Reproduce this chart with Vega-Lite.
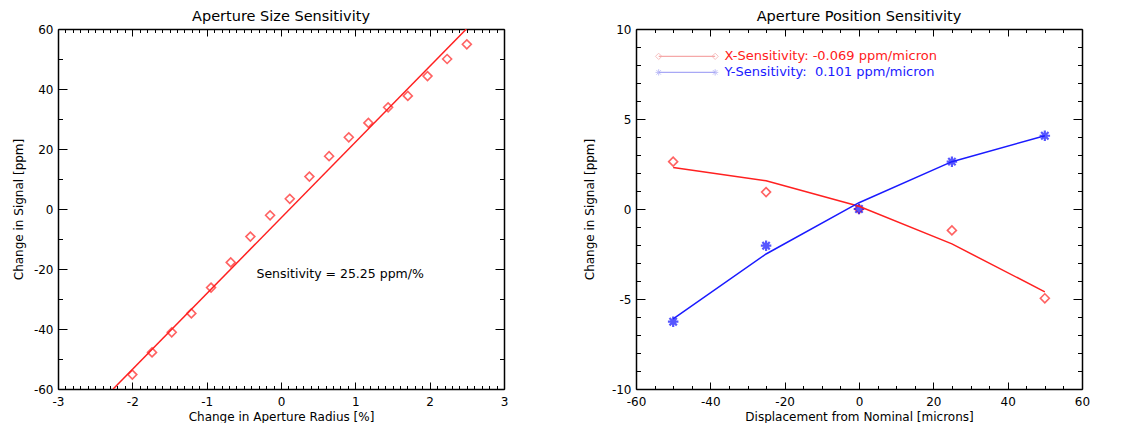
{
  "$schema": "https://vega.github.io/schema/vega-lite/v6.json",
  "padding": {"left": 12, "top": 8, "right": 5, "bottom": 0},
  "background": "white",
  "config": {
    "font": "DejaVu Sans",
    "view": {"stroke": null},
    "axis": {
      "grid": false,
      "domainColor": "black",
      "domainWidth": 1.5,
      "tickColor": "black",
      "tickWidth": 1,
      "labelColor": "black",
      "labelFontSize": 12,
      "titleFontSize": 12,
      "titleFontWeight": "normal",
      "titleColor": "black",
      "labelOverlap": false,
      "labelFlush": false,
      "labelBound": false
    },
    "title": {"fontSize": 14.5, "fontWeight": "normal", "color": "black", "offset": -1}
  },
  "spacing": 75,
  "hconcat": [
    {
      "width": 446,
      "height": 360,
      "title": "Aperture Size Sensitivity",
      "resolve": {"scale": {"x": "independent", "y": "independent"}},
      "layer": [
        {
          "data": {"values": [
            {"radius": -2.0, "signal": -55.2},
            {"radius": -1.735, "signal": -47.8},
            {"radius": -1.47, "signal": -41.1},
            {"radius": -1.206, "signal": -34.8},
            {"radius": -0.941, "signal": -26.2},
            {"radius": -0.676, "signal": -17.8},
            {"radius": -0.412, "signal": -9.2},
            {"radius": -0.147, "signal": -2.1},
            {"radius": 0.118, "signal": 3.4},
            {"radius": 0.382, "signal": 10.8},
            {"radius": 0.647, "signal": 17.6},
            {"radius": 0.912, "signal": 23.9},
            {"radius": 1.176, "signal": 28.7},
            {"radius": 1.441, "signal": 33.9},
            {"radius": 1.706, "signal": 37.7},
            {"radius": 1.971, "signal": 44.3},
            {"radius": 2.235, "signal": 50.0},
            {"radius": 2.5, "signal": 54.9}
          ]},
          "mark": {"type": "point", "shape": "diamond", "filled": false, "color": "#ff2020", "size": 80, "strokeWidth": 1.6},
          "encoding": {
            "x": {"field": "radius", "type": "quantitative",
              "scale": {"domain": [-3, 3], "nice": false, "zero": false},
              "axis": {"orient": "bottom", "title": "Change in Aperture Radius [%]",
                "values": [-3,-2.9,-2.8,-2.7,-2.6,-2.5,-2.4,-2.3,-2.2,-2.1,-2,-1.9,-1.8,-1.7,-1.6,-1.5,-1.4,-1.3,-1.2,-1.1,-1,-0.9,-0.8,-0.7,-0.6,-0.5,-0.4,-0.3,-0.2,-0.1,0,0.1,0.2,0.3,0.4,0.5,0.6,0.7,0.8,0.9,1,1.1,1.2,1.3,1.4,1.5,1.6,1.7,1.8,1.9,2,2.1,2.2,2.3,2.4,2.5,2.6,2.7,2.8,2.9,3],
                "tickSize": {"condition": {"test": "abs(datum.value - round(datum.value)) < 1e-6", "value": -7}, "value": -3.5},
                "labelExpr": "abs(datum.value - round(datum.value)) < 1e-6 ? '' + round(datum.value) : ''",
                "labelPadding": 14, "titlePadding": 1}},
            "y": {"field": "signal", "type": "quantitative",
              "scale": {"domain": [-60, 60], "nice": false, "zero": false},
              "axis": {"orient": "left", "title": "Change in Signal [ppm]",
                "values": [-60,-50,-40,-30,-20,-10,0,10,20,30,40,50,60],
                "tickSize": {"condition": {"test": "datum.value % 20 == 0", "value": -9}, "value": -4.5},
                "labelExpr": "datum.value % 20 == 0 ? '' + round(datum.value) : ''",
                "labelPadding": 14, "titlePadding": 8}}
          }
        },
        {
          "data": {"values": [
            {"radius": -2.258, "signal": -60},
            {"radius": 2.494, "signal": 60}
          ]},
          "mark": {"type": "line", "color": "#ff2020", "strokeWidth": 1.5, "clip": true},
          "encoding": {
            "x": {"field": "radius", "type": "quantitative",
              "scale": {"domain": [-3, 3], "nice": false, "zero": false},
              "axis": {"orient": "top", "title": null, "labels": false,
                "values": [-3,-2.9,-2.8,-2.7,-2.6,-2.5,-2.4,-2.3,-2.2,-2.1,-2,-1.9,-1.8,-1.7,-1.6,-1.5,-1.4,-1.3,-1.2,-1.1,-1,-0.9,-0.8,-0.7,-0.6,-0.5,-0.4,-0.3,-0.2,-0.1,0,0.1,0.2,0.3,0.4,0.5,0.6,0.7,0.8,0.9,1,1.1,1.2,1.3,1.4,1.5,1.6,1.7,1.8,1.9,2,2.1,2.2,2.3,2.4,2.5,2.6,2.7,2.8,2.9,3],
                "tickSize": {"condition": {"test": "abs(datum.value - round(datum.value)) < 1e-6", "value": -7}, "value": -3.5}}},
            "y": {"field": "signal", "type": "quantitative",
              "scale": {"domain": [-60, 60], "nice": false, "zero": false},
              "axis": {"orient": "right", "title": null, "labels": false,
                "values": [-60,-50,-40,-30,-20,-10,0,10,20,30,40,50,60],
                "tickSize": {"condition": {"test": "datum.value % 20 == 0", "value": -9}, "value": -4.5}}}
          }
        },
        {
          "data": {"values": [
            {"radius": -0.33, "signal": -21.5, "note": "Sensitivity = 25.25 ppm/%"}
          ]},
          "mark": {"type": "text", "align": "left", "baseline": "middle", "fontSize": 12.5, "color": "black"},
          "encoding": {
            "x": {"field": "radius", "type": "quantitative", "scale": {"domain": [-3, 3], "nice": false, "zero": false}, "axis": null},
            "y": {"field": "signal", "type": "quantitative", "scale": {"domain": [-60, 60], "nice": false, "zero": false}, "axis": null},
            "text": {"field": "note"}
          }
        }
      ]
    },
    {
      "width": 446,
      "height": 360,
      "title": "Aperture Position Sensitivity",
      "resolve": {"scale": {"x": "independent", "y": "independent", "color": "independent"}},
      "layer": [
        {
          "data": {"values": [
            {"disp": -50, "signal": 2.63},
            {"disp": -25, "signal": 0.94},
            {"disp": 0, "signal": 0.0},
            {"disp": 25, "signal": -1.19},
            {"disp": 50, "signal": -4.96}
          ]},
          "mark": {"type": "point", "shape": "diamond", "filled": false, "color": "#ff2020", "size": 80, "strokeWidth": 1.6},
          "encoding": {
            "x": {"field": "disp", "type": "quantitative",
              "scale": {"domain": [-60, 60], "nice": false, "zero": false},
              "axis": {"orient": "bottom", "title": "Displacement from Nominal [microns]",
                "values": [-60,-55,-50,-45,-40,-35,-30,-25,-20,-15,-10,-5,0,5,10,15,20,25,30,35,40,45,50,55,60],
                "tickSize": {"condition": {"test": "datum.value % 20 == 0", "value": -7}, "value": -3.5},
                "labelExpr": "datum.value % 20 == 0 ? '' + round(datum.value) : ''",
                "labelPadding": 14, "titlePadding": 1}},
            "y": {"field": "signal", "type": "quantitative",
              "scale": {"domain": [-10, 10], "nice": false, "zero": false},
              "axis": {"orient": "left", "title": "Change in Signal [ppm]",
                "values": [-10,-9,-8,-7,-6,-5,-4,-3,-2,-1,0,1,2,3,4,5,6,7,8,9,10],
                "tickSize": {"condition": {"test": "datum.value % 5 == 0", "value": -9}, "value": -4.5},
                "labelExpr": "datum.value % 5 == 0 ? '' + round(datum.value) : ''",
                "labelPadding": 14, "titlePadding": 15}}
          }
        },
        {
          "data": {"values": [
            {"disp": -50, "signal": -6.26},
            {"disp": -25, "signal": -2.04},
            {"disp": 0, "signal": 0.0},
            {"disp": 25, "signal": 2.63},
            {"disp": 50, "signal": 4.07}
          ]},
          "mark": {"type": "point", "shape": "M-1,0L1,0M0,-1L0,1M-0.7,-0.7L0.7,0.7M-0.7,0.7L0.7,-0.7", "filled": false, "color": "#1010ff", "size": 110, "strokeWidth": 2.2},
          "encoding": {
            "x": {"field": "disp", "type": "quantitative", "scale": {"domain": [-60, 60], "nice": false, "zero": false}, "axis": null},
            "y": {"field": "signal", "type": "quantitative", "scale": {"domain": [-10, 10], "nice": false, "zero": false}, "axis": null}
          }
        },
        {
          "data": {"values": [
            {"series": "X", "disp": -50, "fit": 2.31},
            {"series": "X", "disp": -25, "fit": 1.57},
            {"series": "X", "disp": 0, "fit": 0.15},
            {"series": "X", "disp": 25, "fit": -1.94},
            {"series": "X", "disp": 50, "fit": -4.6},
            {"series": "Y", "disp": -50, "fit": -6.1},
            {"series": "Y", "disp": -25, "fit": -2.5},
            {"series": "Y", "disp": 0, "fit": 0.35},
            {"series": "Y", "disp": 25, "fit": 2.63},
            {"series": "Y", "disp": 50, "fit": 4.07}
          ]},
          "mark": {"type": "line", "strokeWidth": 1.5},
          "encoding": {
            "x": {"field": "disp", "type": "quantitative",
              "scale": {"domain": [-60, 60], "nice": false, "zero": false},
              "axis": {"orient": "top", "title": null, "labels": false,
                "values": [-60,-55,-50,-45,-40,-35,-30,-25,-20,-15,-10,-5,0,5,10,15,20,25,30,35,40,45,50,55,60],
                "tickSize": {"condition": {"test": "datum.value % 20 == 0", "value": -7}, "value": -3.5}}},
            "y": {"field": "fit", "type": "quantitative",
              "scale": {"domain": [-10, 10], "nice": false, "zero": false},
              "axis": {"orient": "right", "title": null, "labels": false,
                "values": [-10,-9,-8,-7,-6,-5,-4,-3,-2,-1,0,1,2,3,4,5,6,7,8,9,10],
                "tickSize": {"condition": {"test": "datum.value % 5 == 0", "value": -9}, "value": -4.5}}},
            "color": {"field": "series", "type": "nominal", "scale": {"domain": ["X", "Y"], "range": ["#ff2020", "#1a1aff"]}, "legend": null}
          }
        },
        {
          "data": {"values": [
            {"series": "X", "disp": -53.9, "level": 8.48},
            {"series": "X", "disp": -38.7, "level": 8.48},
            {"series": "Y", "disp": -53.9, "level": 7.59},
            {"series": "Y", "disp": -38.7, "level": 7.59}
          ]},
          "layer": [
            {
              "mark": {"type": "line", "strokeWidth": 1.2},
              "encoding": {
                "x": {"field": "disp", "type": "quantitative", "scale": {"domain": [-60, 60], "nice": false, "zero": false}, "axis": null},
                "y": {"field": "level", "type": "quantitative", "scale": {"domain": [-10, 10], "nice": false, "zero": false}, "axis": null},
                "color": {"field": "series", "type": "nominal", "scale": {"domain": ["X", "Y"], "range": ["#f5a8a8", "#a8a8f5"]}, "legend": null}
              }
            },
            {
              "mark": {"type": "point", "filled": false, "strokeWidth": 1, "size": 40},
              "encoding": {
                "x": {"field": "disp", "type": "quantitative", "scale": {"domain": [-60, 60], "nice": false, "zero": false}, "axis": null},
                "y": {"field": "level", "type": "quantitative", "scale": {"domain": [-10, 10], "nice": false, "zero": false}, "axis": null},
                "color": {"field": "series", "type": "nominal", "scale": {"domain": ["X", "Y"], "range": ["#f5a8a8", "#a8a8f5"]}, "legend": null},
                "shape": {"field": "series", "type": "nominal", "scale": {"domain": ["X", "Y"], "range": ["diamond", "M-1,0L1,0M0,-1L0,1M-0.7,-0.7L0.7,0.7M-0.7,0.7L0.7,-0.7"]}, "legend": null}
              }
            }
          ]
        },
        {
          "data": {"values": [
            {"series": "X", "disp": -36.2, "level": 8.48, "label": "X-Sensitivity: -0.069 ppm/micron"},
            {"series": "Y", "disp": -36.2, "level": 7.59, "label": "Y-Sensitivity: \u00a00.101 ppm/micron"}
          ]},
          "mark": {"type": "text", "align": "left", "baseline": "middle", "fontSize": 13},
          "encoding": {
            "x": {"field": "disp", "type": "quantitative", "scale": {"domain": [-60, 60], "nice": false, "zero": false}, "axis": null},
            "y": {"field": "level", "type": "quantitative", "scale": {"domain": [-10, 10], "nice": false, "zero": false}, "axis": null},
            "text": {"field": "label"},
            "color": {"field": "series", "type": "nominal", "scale": {"domain": ["X", "Y"], "range": ["#ff2020", "#1a1aff"]}, "legend": null}
          }
        }
      ]
    }
  ]
}
